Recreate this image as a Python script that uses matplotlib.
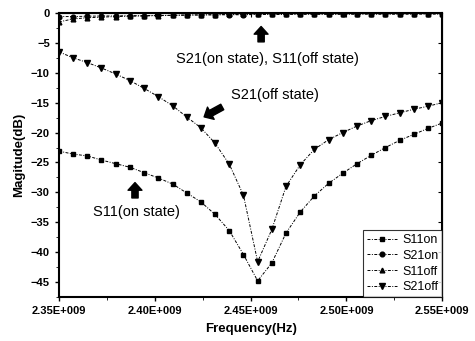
import matplotlib.pyplot as plt
import numpy as np

plt.rcParams['font.family'] = ['Liberation Sans', 'DejaVu Sans']

# measured frequency points (GHz)
freq_ghz = [2.3500, 2.3574, 2.3648, 2.3722, 2.3796, 2.3870, 2.3944, 2.4019,
            2.4093, 2.4167, 2.4241, 2.4315, 2.4389, 2.4463, 2.4537, 2.4611,
            2.4685, 2.4759, 2.4833, 2.4907, 2.4981, 2.5056, 2.5130, 2.5204,
            2.5278, 2.5352, 2.5426, 2.5500]

s11_on = [-23.1, -23.6, -23.9, -24.6, -25.2, -25.8, -26.7, -27.6, -28.6, -30.1,
          -31.6, -33.7, -36.4, -40.4, -44.8, -41.8, -36.8, -33.3, -30.6, -28.5,
          -26.8, -25.2, -23.8, -22.5, -21.3, -20.3, -19.3, -18.4]
s21_on = [-0.6, -0.6, -0.55, -0.5, -0.5, -0.45, -0.45, -0.4, -0.4, -0.35,
          -0.35, -0.3, -0.3, -0.3, -0.25, -0.25, -0.25, -0.2, -0.2, -0.2,
          -0.2, -0.15, -0.15, -0.15, -0.15, -0.1, -0.1, -0.1]
s11_off = [-1.5, -1.0, -0.8, -0.7, -0.6, -0.55, -0.5, -0.45, -0.4, -0.35,
           -0.3, -0.3, -0.25, -0.25, -0.2, -0.2, -0.2, -0.2, -0.2, -0.2,
           -0.2, -0.2, -0.2, -0.2, -0.2, -0.2, -0.2, -0.2]
s21_off = [-6.5, -7.5, -8.3, -9.2, -10.2, -11.3, -12.6, -14.0, -15.5, -17.4,
           -19.2, -21.8, -25.3, -30.5, -41.6, -36.2, -29.0, -25.4, -22.8, -21.2,
           -20.0, -18.9, -18.0, -17.3, -16.7, -16.1, -15.6, -15.0]

xtick_vals = [2.35, 2.40, 2.45, 2.50, 2.55]
xtick_labels = ['2.35E+009', '2.40E+009', '2.45E+009', '2.50E+009', '2.55E+009']
ytick_vals = [-45, -40, -35, -30, -25, -20, -15, -10, -5, 0]

f = np.array(freq_ghz)

fig = plt.figure(figsize=(4.75, 3.41), dpi=100)
ax = fig.add_axes([0.124, 0.129, 0.807, 0.833])

ls = (0, (3, 1.5, 1, 1.5))
ax.plot(f, s11_on, linestyle=ls, color='black', lw=0.7, marker='s', ms=3.4, label='S11on')
ax.plot(f, s21_on, linestyle=ls, color='black', lw=0.7, marker='o', ms=3.4, label='S21on')
ax.plot(f, s11_off, linestyle=ls, color='black', lw=0.7, marker='^', ms=3.4, label='S11off')
ax.plot(f, s21_off, linestyle=ls, color='black', lw=0.7, marker='v', ms=4.2, label='S21off')

ax.set_xlim(2.35, 2.55)
ax.set_ylim(-47.3, 0)
ax.set_xticks(xtick_vals)
ax.set_xticklabels(xtick_labels)
ax.set_xticks([2.375, 2.425, 2.475, 2.525], minor=True)
ax.set_yticks(ytick_vals)
ax.set_yticks(np.arange(-47.5, 0, 2.5), minor=True)
ax.tick_params(direction='out', labelsize=8, width=1, length=3)
ax.tick_params(which='minor', direction='out', length=2)
for lab in ax.get_xticklabels() + ax.get_yticklabels():
    lab.set_fontweight('bold')
for sp in ax.spines.values():
    sp.set_linewidth(1.5)

secy = ax.secondary_yaxis('right')
secy.set_yticks(ytick_vals)
secy.tick_params(direction='in', labelright=False, length=3)
secx = ax.secondary_xaxis('top')
secx.set_xticks(xtick_vals)
secx.tick_params(direction='in', labeltop=False, length=3)

ax.set_xlabel('Frequency(Hz)', fontsize=9.5, fontweight='bold', labelpad=5)
ax.set_ylabel('Magitude(dB)', fontsize=9.5, fontweight='bold', labelpad=4)

arrow = dict(arrowstyle='simple,head_length=0.55,head_width=1.0,tail_width=0.45',
             fc='black', ec='black')
ax.text(2.459, -7.7, 'S21(on state), S11(off state)', fontsize=10.5, ha='center', va='center')
ax.annotate('', xy=(2.4555, -1.8), xytext=(2.4555, -5.3), arrowprops=arrow)
ax.text(2.4628, -13.7, 'S21(off state)', fontsize=10.5, ha='center', va='center')
ax.annotate('', xy=(2.4245, -17.6), xytext=(2.4365, -15.5), arrowprops=arrow)
ax.text(2.3907, -33.3, 'S11(on state)', fontsize=10.5, ha='center', va='center')
ax.annotate('', xy=(2.3897, -27.9), xytext=(2.3897, -31.4), arrowprops=arrow)

leg = ax.legend(loc='lower right', fontsize=9, handlelength=2.4, borderaxespad=0,
                frameon=True, fancybox=False, edgecolor='black', labelspacing=0.3,
                borderpad=0.3, handletextpad=0.4)
leg.get_frame().set_linewidth(0.8)

fig.savefig('out.png', dpi=100)
